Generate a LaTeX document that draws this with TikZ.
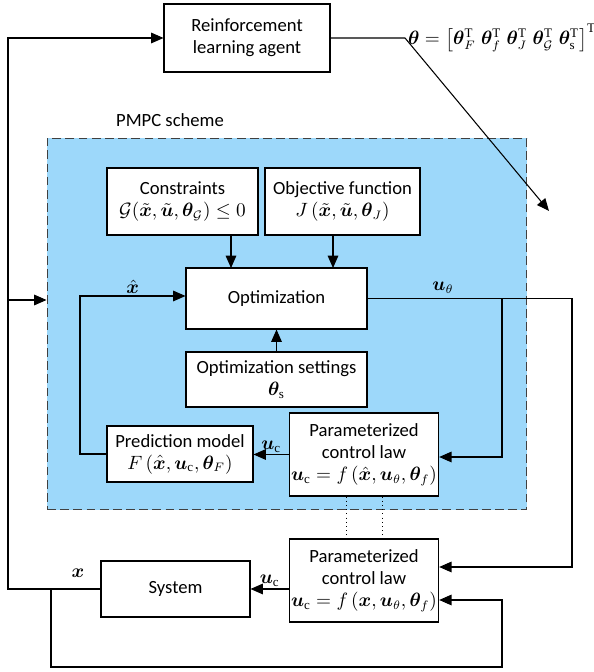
\documentclass[tikz,border=0pt]{standalone}
\usepackage{fontspec}
\setmainfont{Carlito}
\setmathrm{Liberation Serif}
\usepackage{amsmath,bm}
\usepackage{tikz}
\usetikzlibrary{arrows.meta,calc}
\definecolor{cpmpc}{RGB}{157,216,250}

\begin{document}
\begin{tikzpicture}[>={Triangle[length=7pt,width=6pt]}, x=0.02cm, y=0.02cm,
                    font=\fontsize{10.6}{12.5}\selectfont, line width=0.6pt,
                    blk/.style={draw, fill=white, align=center, inner sep=1pt},
                    sig/.style={inner sep=1pt}]
  \useasboundingbox (0,0) rectangle (593,672);
  \def\xl{8}      % left return line
  \def\xr{572}    % outer u_theta line
  \def\xi{502}    % inner u_theta branch / state feedback
  % PMPC scheme: dashed blue frame
  \node[draw=black!75, fill=cpmpc, dash pattern=on 5pt off 2.5pt,
        minimum width=9.6cm, minimum height=7.44cm] (pmpc) at (287,348) {};
  \node (pmpclab) at (170,552) {PMPC scheme};
  % blocks
  \node[blk, minimum width=3.32cm, minimum height=1.36cm] (agent) at (247,634)
    {Reinforcement\\learning agent};
  \node[blk, minimum width=3.02cm, minimum height=1.34cm] (cons) at (182.5,470.5)
    {Constraints\\$\mathcal{G}(\tilde{\bm x},\tilde{\bm u},\bm\theta_{\mathcal G})\le 0$};
  \node[blk, minimum width=3.10cm, minimum height=1.34cm] (obj) at (342.5,470.5)
    {Objective function\\$J\left(\tilde{\bm x},\tilde{\bm u},\bm\theta_J\right)$};
  \node[blk, minimum width=3.62cm, minimum height=1.22cm] (opt) at (276.5,373.5)
    {Optimization};
  \node[blk, minimum width=3.62cm, minimum height=1.10cm] (sett) at (276.5,292.5)
    {Optimization settings\\$\bm\theta_{\mathrm s}$};
  \node[blk, minimum width=2.92cm, minimum height=1.66cm] (ctrl) at (364,217.5)
    {Parameterized\\control law\\$\bm u_{\mathrm c}=f\left(\hat{\bm x},\bm u_\theta,\bm\theta_f\right)$};
  \node[blk, minimum width=2.92cm, minimum height=1.12cm] (pred) at (180,218)
    {Prediction model\\$F\left(\hat{\bm x},\bm u_{\mathrm c},\bm\theta_F\right)$};
  \node[blk, minimum width=2.92cm, minimum height=1.66cm] (plant) at (364,91.5)
    {Parameterized\\control law\\$\bm u_{\mathrm c}=f\left(\bm x,\bm u_\theta,\bm\theta_f\right)$};
  \node[blk, minimum width=2.98cm, minimum height=1.12cm] (sys) at (175.5,83) {System};
  % parameter vector
  \node (theta) at (502,634)
    {$\bm\theta=\left[\bm\theta_F^{\mathrm T}\;\bm\theta_f^{\mathrm T}\;\bm\theta_J^{\mathrm T}\;
      \bm\theta_{\mathcal G}^{\mathrm T}\;\bm\theta_{\mathrm s}^{\mathrm T}\right]^{\mathrm T}$};
  % inside the optimizer
  \coordinate (oc) at (231,404);
  \coordinate (oj) at (333,404);
  \draw[->] (cons.south -| oc) -- (oc);
  \draw[->] (obj.south -| oj) -- (oj);
  \draw[->] (sett.north) -- (opt.south);
  \draw[->] (ctrl.west) -- (ctrl.west -| pred.east)
    node[sig, pos=0.5, above] {$\bm u_{\mathrm c}$};
  \coordinate (fb) at (80,376);
  \draw[->] (pred.west) -| (fb) -- (fb -| opt.west)
    node[sig, pos=0.5, above] {$\hat{\bm x}$};
  % optimal input to both control laws
  \coordinate (ur) at (\xr,105);
  \coordinate (ub) at (\xi,215);
  \draw[->] (opt.east) -| (ur) -- (ur -| plant.east);
  \node[sig] (utlab) at (443,384) {$\bm u_\theta$};
  \draw[->] (ub |- opt.east) -- (ub) -- (ub -| ctrl.east);
  \draw[dotted, line width=0.4pt] ($(ctrl.south)+(-18,0)$) -- ($(plant.north)+(-18,0)$);
  \draw[dotted, line width=0.4pt] ($(ctrl.south)+(18,0)$) -- ($(plant.north)+(18,0)$);
  % plant loop
  \draw[->] (plant.west |- sys.east) -- (sys.east)
    node[sig, pos=0.5, above] {$\bm u_{\mathrm c}$};
  \coordinate (xlo) at (\xl,83);
  \coordinate (xhi) at (\xl,634);
  \coordinate (xm) at (\xl,372);
  \draw[->] (sys.west) -- (xlo) -- (xhi) -- (agent.west);
  \node[sig] (xlab) at (78,99) {$\bm x$};
  \draw[->] (xm) -- (xm -| pmpc.west);
  \coordinate (xb) at (51,5);
  \coordinate (xf) at (\xi,72);
  \draw[->] (xb |- sys.west) -- (xb) -| (xf) -- (xf -| plant.east);
  % parameter update
  \coordinate (dk) at (405,634);
  \coordinate (dt) at (549,461);
  \draw[->] (agent.east) -- (dk) -- (dt);
\end{tikzpicture}
\end{document}
